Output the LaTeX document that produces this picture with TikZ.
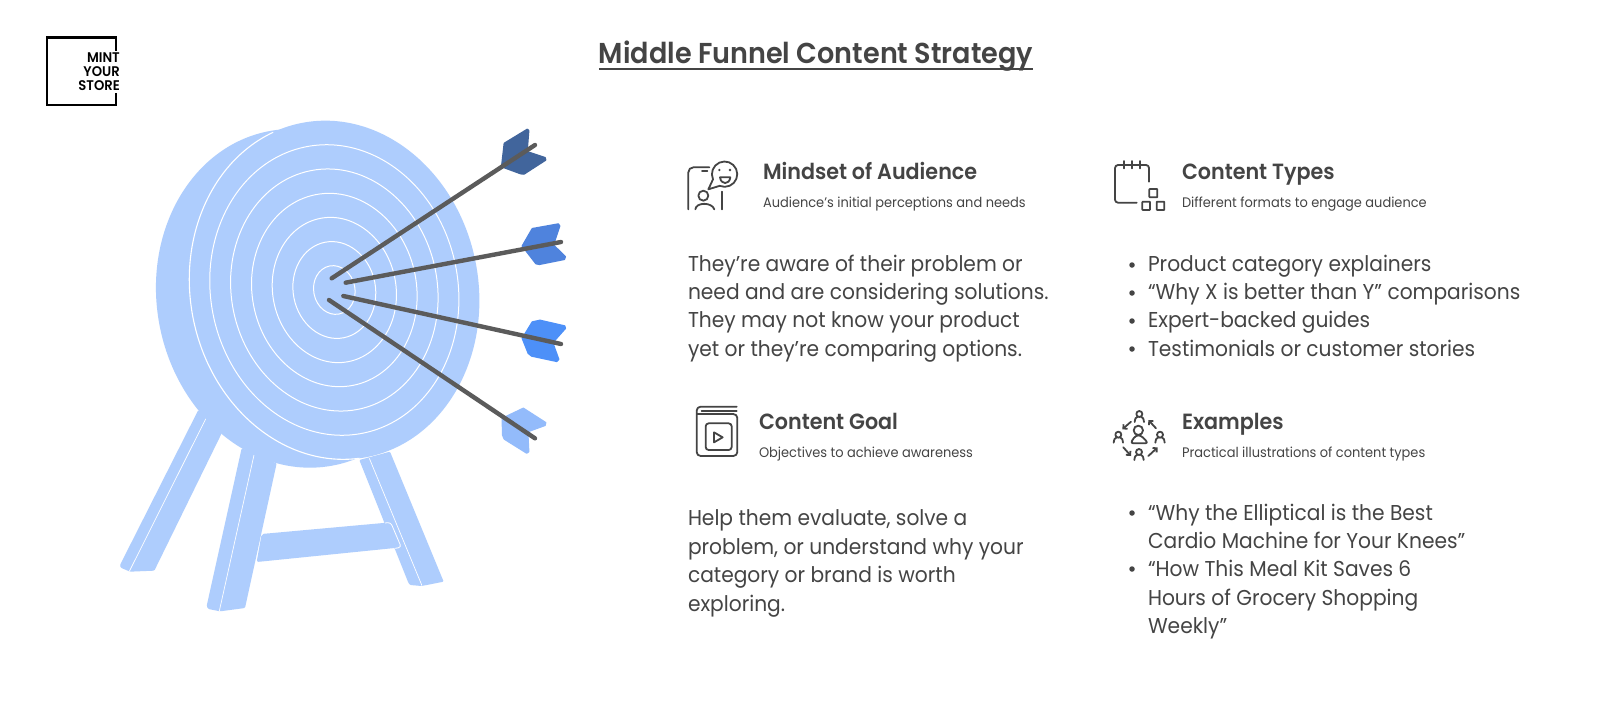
\documentclass[tikz,border=0pt]{standalone}
\usepackage{fontspec}
\setmainfont{Poppins}[FakeStretch=0.94,BoldFont={Poppins SemiBold}]
\usetikzlibrary{arrows.meta}
\definecolor{disc}{HTML}{AECDFD}
\definecolor{ink}{HTML}{444444}
\definecolor{shaft}{HTML}{5B5B5B}
\definecolor{fa}{HTML}{41659C}
\definecolor{fb}{HTML}{4F83DD}
\definecolor{fc}{HTML}{4D90F8}
\definecolor{fd}{HTML}{93BBFB}
\tikzset{
 txt/.style={anchor=base west,inner sep=0pt,outer sep=0pt,text=ink},
 body/.style={txt,font=\fontsize{21.5}{26}\selectfont},
 head/.style={txt,font=\fontsize{22}{26}\selectfont\bfseries},
 sub/.style={txt,font=\fontsize{13.8}{16}\selectfont},
 dot/.style={circle,fill=ink,inner sep=0pt,minimum size=5.5pt},
 ring/.style={draw=white,line width=1pt},
 arrowshaft/.style={draw=shaft,line width=4.4pt,line cap=round},
 feather/.style={line join=round,line width=1.5pt},
 zoomed/.style={x=0.33333pt,y=-0.33333pt},
 ico/.style={draw=ink,line width=1.8pt,line cap=round,line join=round},
 logotxt/.style={anchor=base east,inner sep=0pt,font=\fontsize{14}{16}\selectfont\bfseries,text=black}
}
\newcommand{\tinyperson}[2]{%
 \draw[ico] (#1,#2) circle (9);
 \draw[ico] (#1-14,#2+24) .. controls (#1-12,#2+12) .. (#1-5,#2+8);
 \draw[ico] (#1+14,#2+24) .. controls (#1+12,#2+12) .. (#1+5,#2+8);
}
\begin{document}
\begin{tikzpicture}[x=1pt,y=-1pt]
\useasboundingbox[fill=white] (0,0) rectangle (1600,702);
% logo
\draw[black,line width=2.6pt] (116,51) -- (116,37.5) -- (47,37.5) -- (47,105) -- (116,105) -- (116,93);
\node[logotxt] (l1) at (120,62) {MINT};
\node[logotxt] (l2) at (120,76) {YOUR};
\node[logotxt] (l3) at (120,90) {STORE};
% title
\node[txt,anchor=base,font=\fontsize{28.8}{32}\selectfont\bfseries] (title) at (816,63) {Middle Funnel Content Strategy};
\draw[ink,line width=1.6pt] ([yshift=-6pt]title.base west) -- ([yshift=-6pt]title.base east);
% target
\begin{scope}[shift={(100,110)},zoomed]
 % legs
 \fill[disc,rounded corners=1pt] (295,900) -- (365,970) -- (163,1382) -- (90,1385) -- (62,1373) -- (60,1365) -- cycle;
 \fill[disc,rounded corners=1pt] (425,1015) -- (530,1060) -- (435,1494) -- (360,1504) -- (325,1497) -- (320,1488) -- cycle;
 \fill[disc,rounded corners=1pt] (778,1050) -- (870,1025) -- (1031,1415) -- (965,1428) -- (930,1425) -- (925,1418) -- cycle;
 \draw[white,line width=0.7pt] (318,925) -- (88,1384);
 \draw[white,line width=0.7pt] (462,1035) -- (358,1503);
 \draw[white,line width=0.7pt] (808,1045) -- (966,1427);
 \fill[disc,rounded corners=2pt] (485,1272) -- (872,1237) -- (904,1312) -- (470,1356) -- cycle;
 \draw[white,line width=0.8pt,rounded corners=3pt] (855,1239) -- (872,1237) -- (904,1312) -- (885,1315);
 % disc
 \begin{scope}[shift={(603,565)},rotate=11]
  \fill[disc] (0,0) ellipse (432 and 510.6);
 \end{scope}
 \begin{scope}[shift={(703,540)},rotate=11]
  \fill[disc] (0,0) ellipse (432 and 510.6);
  \draw[white,line width=1.1pt] (93:432 and 510.6) arc[start angle=93,end angle=258,x radius=432,y radius=510.6];
  \draw[ring] (0,0) ellipse (371 and 438);
  \draw[ring] (0,0) ellipse (309 and 365);
  \draw[ring] (0,0) ellipse (246.6 and 291.5);
  \draw[ring] (0,0) ellipse (185 and 219);
  \draw[ring] (0,0) ellipse (123.5 and 146);
  \draw[ring] (0,0) ellipse (62 and 73.4);
 \end{scope}
 % feathers
 \filldraw[fill=fa,draw=fa,feather] (1205,170) -- (1213,100) -- (1282,58) -- (1286,62) -- (1281,125) -- (1335,143) -- (1337,150) -- (1272,192) -- (1262,191) -- cycle;
 \filldraw[fill=fb,draw=fb,feather] (1267,408) -- (1297,356) -- (1375,342) -- (1379,348) -- (1360,405) -- (1396,440) -- (1393,448) -- (1318,463) -- (1308,461) -- cycle;
 \filldraw[fill=fc,draw=fc,feather] (1267,685) -- (1297,636) -- (1320,631) -- (1394,648) -- (1396,655) -- (1358,698) -- (1376,748) -- (1370,754) -- (1295,738) -- (1285,730) -- cycle;
 \filldraw[fill=fd,draw=fd,feather] (1207,925) -- (1270,895) -- (1337,938) -- (1335,946) -- (1283,965) -- (1286,1025) -- (1280,1029) -- (1213,987) -- (1208,975) -- cycle;
 % shafts
 \draw[arrowshaft] (695,505) -- (1305,105);
 \draw[arrowshaft] (737,518) -- (1383,396);
 \draw[arrowshaft] (730,558) -- (1383,702);
 \draw[arrowshaft] (687,570) -- (1305,985);
\end{scope}
% icon 1
\begin{scope}[shift={(670,140)},zoomed]
 \draw[ico,rounded corners=5pt] (55,208) -- (55,82) -- (118,82);
 \draw[ico] (96,93) -- (112,93);
 \draw[ico] (157,155) -- (157,208);
 \draw[ico] (129,118) arc[start angle=156,end angle=473,radius=38] -- (115,148) -- cycle;
 \fill[ink] (148,90) circle (4) (180,90) circle (4);
 \draw[ico] (150,112) -- (181,112) .. controls (178,135) and (153,135) .. cycle;
 \draw[ico] (100,167) circle (15);
 \draw[ico] (76,208) .. controls (78,186) and (126,186) .. (133,208);
\end{scope}
% icon 2
\begin{scope}[shift={(1095,140)},zoomed]
 \draw[ico,rounded corners=3pt] (162,125) -- (162,75) -- (60,75) -- (60,188) -- (125,188);
 \draw[ico] (87,63) -- (87,85) (110,63) -- (110,85) (135,63) -- (135,85);
 \draw[ico,rounded corners=0.6pt] (163,147) rectangle (187,172);
 \draw[ico,rounded corners=0.6pt] (142,185) rectangle (165,210);
 \draw[ico,rounded corners=0.6pt] (185,185) rectangle (208,210);
\end{scope}
% icon 3
\begin{scope}[shift={(670,390)},zoomed]
 \draw[ico,rounded corners=4pt] (200,50) -- (80,50) -- (80,198) -- (202,198) -- (202,72) -- (82,72);
 \draw[ico] (95,62) -- (200,62);
 \draw[ico,rounded corners=3pt] (107,100) rectangle (185,180);
 \draw[ico] (132,127) -- (158,142) -- (132,157) -- cycle;
\end{scope}
% icon 4
\begin{scope}[shift={(1095,390)},zoomed]
 \draw[ico] (130,121) circle (14);
 \draw[ico,rounded corners=3pt] (106,160) -- (122,136) -- (138,136) -- (160,160) -- cycle;
 \tinyperson{133}{72}
 \tinyperson{70}{134}
 \tinyperson{195}{134}
 \tinyperson{132}{186}
 \draw[ico,-{Straight Barb[length=3pt,width=6pt]}] (108,95) -- (82,118);
 \draw[ico,-{Straight Barb[length=3pt,width=6pt]}] (183,115) -- (160,90);
 \draw[ico,-{Straight Barb[length=3pt,width=6pt]}] (85,172) -- (108,198);
 \draw[ico,-{Straight Barb[length=3pt,width=6pt]}] (160,198) -- (188,172);
\end{scope}
% headings
\node[head] (h1) at (763,179) {Mindset of Audience};
\node[sub] (s1) at (763,207) {Audience's initial perceptions and needs};
\node[head] (h2) at (1182,179) {Content Types};
\node[sub] (s2) at (1182,207) {Different formats to engage audience};
\node[head] (h3) at (759,429.5) {Content Goal};
\node[sub] (s3) at (759,457) {Objectives to achieve awareness};
\node[head] (h4) at (1182,429.5) {Examples};
\node[sub] (s4) at (1182,457) {Practical illustrations of content types};
% mindset body
\node[body] (m1) at (688,271) {They’re aware of their problem or};
\node[body] (m2) at (688,299) {need and are considering solutions.};
\node[body] (m3) at (688,327.5) {They may not know your product};
\node[body] (m4) at (688,356) {yet or they’re comparing options.};
% types
\node[dot] (d1) at (1132,265) {};
\node[dot] (d2) at (1132,293) {};
\node[dot] (d3) at (1132,321) {};
\node[dot] (d4) at (1132,349) {};
\node[body] (t1) at (1148,271) {Product category explainers};
\node[body] (t2) at (1148,299) {“Why X is better than Y” comparisons};
\node[body] (t3) at (1148,327.5) {Expert-backed guides};
\node[body] (t4) at (1148,356) {Testimonials or customer stories};
% goal
\node[body] (g1) at (688,525.5) {Help them evaluate, solve a};
\node[body] (g2) at (688,554) {problem, or understand why your};
\node[body] (g3) at (688,582.5) {category or brand is worth};
\node[body] (g4) at (688,611) {exploring.};
% examples
\node[dot] (d5) at (1132,513) {};
\node[dot] (d6) at (1132,569) {};
\node[body] (e1) at (1148,520) {“Why the Elliptical is the Best};
\node[body] (e2) at (1148,548) {Cardio Machine for Your Knees”};
\node[body] (e3) at (1148,576.5) {“How This Meal Kit Saves 6};
\node[body] (e4) at (1148,605) {Hours of Grocery Shopping};
\node[body] (e5) at (1148,633) {Weekly”};
\end{tikzpicture}
\end{document}
